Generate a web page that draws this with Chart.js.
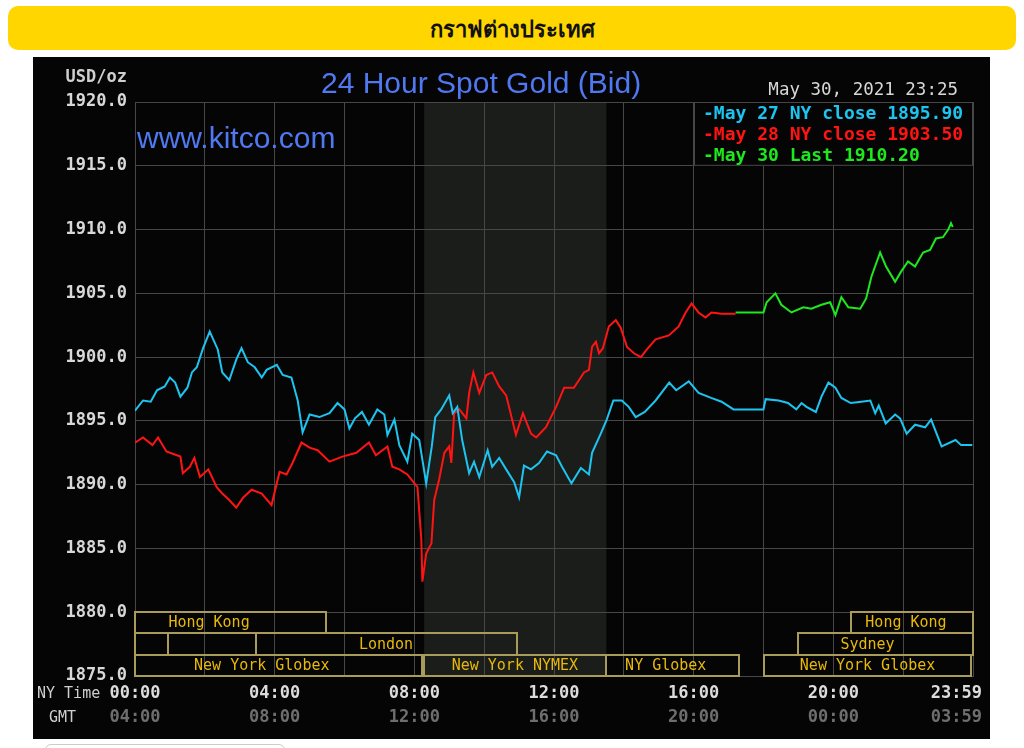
<!DOCTYPE html>
<html>
<head>
<meta charset="utf-8">
<script src="https://cdn.jsdelivr.net/npm/chart.js@4/dist/chart.umd.min.js"></script>
<style>
  html, body { margin: 0; padding: 0; background: #fff; width: 1024px; height: 748px; overflow: hidden; }
  .head { position: absolute; left: 8px; top: 6px; width: 1008px; height: 44px; background: #ffd600;
          border-radius: 10px; text-align: center; font: bold 22px "Noto Sans", sans-serif; color: #111; }
  .head span { position: relative; top: 6px; }
  #wrap { position: absolute; left: 33px; top: 57px; width: 957px; height: 682px; background: #050505; }
  .btn { position: absolute; left: 45px; top: 744px; width: 238px; height: 20px; border: 1px solid #ccc; border-radius: 6px; }
</style>
</head>
<body>
<div class="head"><span>กราฟต่างประเทศ</span></div>
<div id="wrap"><canvas id="goldChart" width="957" height="682"></canvas></div>
<div class="btn"></div>
<script>
// data (NY time in hours, USD/oz)
const hours27 = [0, 0.23, 0.45, 0.63, 0.85, 1.0, 1.15, 1.3, 1.5, 1.63, 1.77, 1.95, 2.14, 2.37, 2.5, 2.7, 2.9, 3.05, 3.23, 3.43,
  3.63, 3.77, 4.06, 4.23, 4.48, 4.66, 4.8, 5.0, 5.28, 5.57, 5.8, 6.0, 6.14, 6.3, 6.5, 6.7, 6.94, 7.14, 7.23, 7.43,
  7.57, 7.8, 7.94, 8.14, 8.34, 8.5, 8.6, 8.77, 9.0, 9.1, 9.23, 9.37, 9.57, 9.71, 9.86, 10.1, 10.23, 10.43, 10.63, 10.86,
  11.0, 11.14, 11.34, 11.57, 11.8, 12.06, 12.23, 12.5, 12.77, 13.0, 13.09, 13.34, 13.51, 13.7, 13.94, 14.14, 14.34, 14.6, 14.91, 15.3,
  15.5, 15.86, 16.14, 16.5, 16.8, 17.14, 18.0, 18.06, 18.43, 18.7, 18.94, 19.09, 19.23, 19.5, 19.66, 19.86, 20.06, 20.23, 20.5, 20.8,
  21.06, 21.2, 21.3, 21.5, 21.77, 21.91, 22.1, 22.34, 22.63, 22.8, 23.1, 23.5, 23.66, 23.98];
const may27 = [1895.8, 1896.6, 1896.5, 1897.4, 1897.7, 1898.4, 1898.0, 1896.9, 1897.6, 1898.8, 1899.2, 1900.7, 1902.0, 1900.6, 1898.8, 1898.2, 1899.8, 1900.7, 1899.6, 1899.2,
  1898.4, 1899.0, 1899.4, 1898.6, 1898.4, 1896.6, 1894.1, 1895.5, 1895.3, 1895.6, 1896.4, 1895.9, 1894.4, 1895.2, 1895.7, 1894.7, 1895.9, 1895.5, 1893.9, 1895.1,
  1893.1, 1891.8, 1894.0, 1893.5, 1890.1, 1893.0, 1895.3, 1895.9, 1897.0, 1895.6, 1896.1, 1893.5, 1890.9, 1891.8, 1890.6, 1892.7, 1891.4, 1892.1, 1891.2, 1890.2,
  1889.0, 1891.5, 1891.2, 1891.7, 1892.6, 1892.3, 1891.4, 1890.1, 1891.3, 1890.8, 1892.5, 1894.0, 1895.1, 1896.6, 1896.6, 1896.1, 1895.3, 1895.7, 1896.6, 1898.0,
  1897.4, 1898.1, 1897.2, 1896.8, 1896.5, 1895.9, 1895.9, 1896.7, 1896.6, 1896.4, 1895.9, 1896.4, 1896.1, 1895.7, 1896.9, 1898.0, 1897.6, 1896.8, 1896.4, 1896.5,
  1896.6, 1895.6, 1896.2, 1894.8, 1895.5, 1895.2, 1894.0, 1894.7, 1894.5, 1895.1, 1893.0, 1893.5, 1893.1, 1893.1];

const hours28 = [0, 0.23, 0.5, 0.66, 0.9, 1.1, 1.3, 1.37, 1.57, 1.7, 1.86, 2.1, 2.34, 2.5, 2.7, 2.9, 3.1, 3.34, 3.63, 3.91,
  4.14, 4.34, 4.51, 4.77, 5.0, 5.23, 5.57, 5.94, 6.34, 6.7, 6.9, 7.23, 7.37, 7.57, 7.8, 8.09, 8.2, 8.23, 8.34, 8.49,
  8.57, 8.71, 8.86, 9.0, 9.06, 9.14, 9.29, 9.49, 9.57, 9.69, 9.86, 10.06, 10.23, 10.43, 10.63, 10.91, 11.11, 11.34, 11.49, 11.77,
  12.06, 12.29, 12.57, 12.86, 13.0, 13.09, 13.2, 13.29, 13.4, 13.57, 13.77, 13.91, 14.09, 14.29, 14.49, 14.66, 14.91, 15.29, 15.57, 15.77,
  15.94, 16.14, 16.34, 16.51, 16.8, 17.2];
const may28 = [1893.3, 1893.7, 1893.1, 1893.7, 1892.6, 1892.4, 1892.2, 1890.9, 1891.4, 1892.1, 1890.6, 1891.2, 1889.8, 1889.3, 1888.8, 1888.2, 1889.0, 1889.6, 1889.3, 1888.4,
  1891.0, 1890.8, 1891.7, 1893.3, 1892.9, 1892.7, 1891.8, 1892.2, 1892.5, 1893.3, 1892.3, 1893.0, 1891.4, 1891.2, 1890.8, 1889.8, 1885.7, 1882.4, 1884.6, 1885.4,
  1888.8, 1890.4, 1892.5, 1893.0, 1891.7, 1895.6, 1895.9, 1895.2, 1897.2, 1898.8, 1897.2, 1898.6, 1898.8, 1897.7, 1897.0, 1893.9, 1895.6, 1894.0, 1893.7, 1894.5,
  1896.1, 1897.6, 1897.6, 1898.8, 1899.0, 1900.8, 1901.2, 1900.3, 1900.7, 1902.4, 1902.9, 1902.3, 1900.8, 1900.3, 1900.0, 1900.6, 1901.4, 1901.7, 1902.4, 1903.5,
  1904.2, 1903.5, 1903.1, 1903.5, 1903.4, 1903.4];

const hours30 = [17.2, 18.0, 18.09, 18.34, 18.51, 18.8, 19.14, 19.37, 19.66, 19.91, 20.06, 20.23, 20.43, 20.77, 20.94, 21.09, 21.34, 21.51, 21.77, 21.94,
  22.14, 22.34, 22.57, 22.77, 22.94, 23.14, 23.29, 23.37, 23.42];
const may30 = [1903.5, 1903.5, 1904.3, 1905.0, 1904.1, 1903.5, 1903.9, 1903.8, 1904.1, 1904.3, 1903.3, 1904.7, 1903.9, 1903.8, 1904.6, 1906.3, 1908.2, 1907.1, 1905.9, 1906.7,
  1907.5, 1907.1, 1908.2, 1908.4, 1909.3, 1909.4, 1910.0, 1910.5, 1910.2];

const legendLabels = ["-May 27 NY close 1895.90", "-May 28 NY close 1903.50", "-May 30 Last 1910.20"];
const tickHours = [0, 4, 8, 12, 16, 20, 24];
const nyTimeLabels = ["00:00", "04:00", "08:00", "12:00", "16:00", "20:00", "23:59"];
const gmtLabels = ["04:00", "08:00", "12:00", "16:00", "20:00", "00:00", "03:59"];

// trading sessions (bars along the bottom), NY hours
const sessionNames = ["Hong Kong", "Hong Kong", "", "London", "Sydney", "New York Globex", "New York NYMEX", "NY Globex", "New York Globex"];
const sessionRow = [0, 0, 1, 1, 1, 2, 2, 2, 2];
const sessionStart = [0, 20.5, 0, 3.46, 19.0, 0, 8.28, 13.5, 18.0];
const sessionEnd = [5.47, 24, 0.95, 10.94, 24, 8.22, 13.5, 17.3, 23.95];
const sessionLabelAt = [2.12, 22.08, 0.5, 7.19, 20.98, 3.63, 10.88, 15.2, 20.98];
const nymexHours = [8.28, 13.5];

const MONO = '"DejaVu Sans Mono", monospace';
const colors = ["#1ec4f0", "#ff1414", "#1ee81e"];

const toPts = (hs, vs) => hs.map((h, i) => ({ x: h, y: vs[i] }));

const kitcoDecor = {
  id: "kitcoDecor",
  beforeDraw(chart) {
    const { ctx, chartArea: a, scales: { x } } = chart;
    ctx.save();
    ctx.fillStyle = "#050505";
    ctx.fillRect(0, 0, chart.width, chart.height);
    // NYMEX hours shading
    const x0 = x.getPixelForValue(nymexHours[0]), x1 = x.getPixelForValue(nymexHours[1]);
    ctx.fillStyle = "#1b1d1a";
    ctx.fillRect(x0, a.top, x1 - x0, a.bottom - a.top);
    ctx.restore();
  },
  beforeDatasetsDraw(chart) {
    const { ctx, scales: { x, y } } = chart;
    ctx.save();
    ctx.lineWidth = 2;
    ctx.strokeStyle = "#a99c5a";
    ctx.fillStyle = "#e8b90a";
    ctx.font = "15px " + MONO;
    ctx.textAlign = "center";
    ctx.textBaseline = "middle";
    sessionNames.forEach((name, i) => {
      const r = sessionRow[i];
      const yt = Math.round(y.getPixelForValue(1880 - r * 5 / 3));
      const yb = Math.round(y.getPixelForValue(1880 - (r + 1) * 5 / 3));
      const xs = Math.round(x.getPixelForValue(sessionStart[i]));
      const xe = Math.round(x.getPixelForValue(sessionEnd[i]));
      ctx.strokeRect(xs, yt, xe - xs, yb - yt);
      if (name) ctx.fillText(name, x.getPixelForValue(sessionLabelAt[i]), (yt + yb) / 2 + 1);
    });
    ctx.restore();
  },
  afterDatasetsDraw(chart) {
    const { ctx, chartArea: a, scales: { y } } = chart;
    // legend box, top right
    const left = a.right - 279, top = a.top, bottom = y.getPixelForValue(1915);
    ctx.save();
    ctx.fillStyle = "#050505";
    ctx.fillRect(left, top, a.right - left, bottom - top);
    ctx.strokeStyle = "#464646";
    ctx.lineWidth = 1;
    ctx.strokeRect(left + 0.5, top + 0.5, a.right - left - 1, bottom - top - 1);
    ctx.font = "bold 18px " + MONO;
    ctx.textBaseline = "middle";
    legendLabels.forEach((t, i) => {
      ctx.fillStyle = colors[i];
      ctx.fillText(t, left + 9, top + 12 + i * 21);
    });
    ctx.restore();
  },
  afterDraw(chart) {
    const { ctx, chartArea: a, scales: { x } } = chart;
    ctx.save();
    ctx.textBaseline = "alphabetic";
    ctx.fillStyle = "#5078f0";
    ctx.font = '30px "Liberation Sans", Arial, sans-serif';
    ctx.fillText("24 Hour Spot Gold (Bid)", 288, 36);
    ctx.fillText("www.kitco.com", 104, 91);

    ctx.textBaseline = "middle";
    ctx.font = "17.5px " + MONO;
    ctx.fillStyle = "#d8d8d8";
    ctx.textAlign = "right";
    ctx.fillText("May 30, 2021 23:25", 925, 33);
    ctx.font = "bold 17px " + MONO;
    ctx.fillStyle = "#cfcfcf";
    ctx.fillText("USD/oz", 94, 21);

    // time axis: NY time + GMT rows
    ctx.textAlign = "left";
    ctx.font = "15px " + MONO;
    ctx.fillStyle = "#cfcfcf";
    ctx.fillText("NY Time", 4, a.bottom + 18);
    ctx.fillText("GMT", 16, a.bottom + 42);
    ctx.font = "bold 17px " + MONO;
    tickHours.forEach((h, i) => {
      const last = i === tickHours.length - 1;
      const px = x.getPixelForValue(h);
      ctx.textAlign = last ? "right" : "center";
      const tx = last ? px + 9 : px;
      ctx.fillStyle = "#dcdcdc";
      ctx.fillText(nyTimeLabels[i], tx, a.bottom + 18);
      ctx.fillStyle = "#6e6e6e";
      ctx.fillText(gmtLabels[i], tx, a.bottom + 42);
    });
    ctx.restore();
  }
};

const gridColor = "#474747";

new Chart(document.getElementById("goldChart"), {
  type: "line",
  data: {
    datasets: [
      { label: "May 27", data: toPts(hours27, may27), borderColor: colors[0] },
      { label: "May 28", data: toPts(hours28, may28), borderColor: colors[1] },
      { label: "May 30", data: toPts(hours30, may30), borderColor: colors[2] },
    ],
  },
  options: {
    responsive: false,
    animation: false,
    devicePixelRatio: 1,
    layout: { padding: { left: 0, top: 45, right: 17, bottom: 0 } },
    elements: {
      line: { borderWidth: 2, tension: 0 },
      point: { radius: 0 },
    },
    scales: {
      x: {
        type: "linear", min: 0, max: 24,
        ticks: { stepSize: 2, display: false },
        grid: { color: gridColor, lineWidth: 1, drawTicks: false },
        border: { color: gridColor },
        afterFit: (s) => { s.height = 63; },
      },
      y: {
        min: 1875, max: 1920,
        ticks: {
          stepSize: 5, padding: 8, color: "#d8d8d8",
          font: { family: MONO, size: 17, weight: "bold" },
          callback: (v) => v.toFixed(1),
        },
        grid: { color: gridColor, lineWidth: 1, drawTicks: false },
        border: { color: gridColor },
        afterFit: (s) => { s.width = 102; },
      },
    },
    plugins: { legend: { display: false }, tooltip: { enabled: false } },
  },
  plugins: [kitcoDecor],
});
</script>
</body>
</html>
